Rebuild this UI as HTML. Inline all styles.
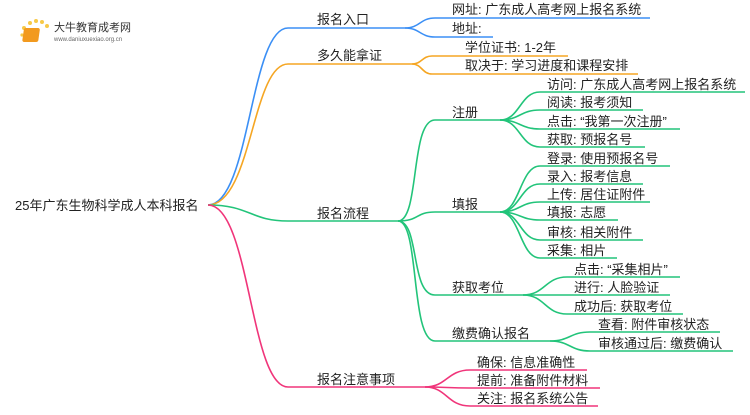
<!DOCTYPE html>
<html><head><meta charset="utf-8"><style>
body{margin:0;background:#fff;}
svg text{font-family:"Liberation Sans","Noto Sans CJK SC",sans-serif;font-size:13px;fill:#222;}
</style></head><body>
<svg width="750" height="410" viewBox="0 0 750 410" xmlns="http://www.w3.org/2000/svg">
<g fill="none" stroke-width="1.6">
<!-- blue -->
<g stroke="#3b8ff5">
<path d="M208,205 C250,205 250,28 288,28 L405,28"/>
<path d="M405,28 C420,28 420,18 435,18 L650,18"/>
<path d="M405,28 C420,28 420,37 435,37 L493,37"/>
</g>
<!-- orange -->
<g stroke="#f5a623">
<path d="M208,205 C252,205 252,64 288,64 L412,64"/>
<path d="M412,64 C422,64 422,56 432,56 L568,56"/>
<path d="M412,64 C422,64 422,74 432,74 L638,74"/>
</g>
<!-- green -->
<g stroke="#22c47a">
<path d="M208,205 C250,205 250,221 288,221 L398,221"/>
<path d="M398,221 C420,221 410,120 435,120 L500,120"/>
<path d="M398,221 C420,221 415,212 435,212 L500,212"/>
<path d="M398,221 C420,221 410,295 435,295 L523,295"/>
<path d="M398,221 C420,221 410,341 435,341 L550,341"/>
<path d="M500,120 C520,120 520,92 540,92 L745,92"/>
<path d="M500,120 C520,120 520,110 540,110 L643,110"/>
<path d="M500,120 C520,120 520,129 540,129 L680,129"/>
<path d="M500,120 C520,120 520,147 540,147 L645,147"/>
<path d="M500,212 C520,212 520,166 540,166 L670,166"/>
<path d="M500,212 C520,212 520,184 540,184 L643,184"/>
<path d="M500,212 C520,212 520,202 540,202 L650,202"/>
<path d="M500,212 C520,212 520,220 540,220 L618,220"/>
<path d="M500,212 C520,212 520,240 540,240 L643,240"/>
<path d="M500,212 C520,212 520,258 540,258 L617,258"/>
<path d="M523,295 C545,295 545,277 567,277 L680,277"/>
<path d="M523,295 C545,295 545,295 567,295 L670,295"/>
<path d="M523,295 C545,295 545,314 567,314 L683,314"/>
<path d="M550,341 C570,341 570,332 590,332 L720,332"/>
<path d="M550,341 C570,341 570,351 590,351 L733,351"/>
</g>
<!-- pink -->
<g stroke="#f0357a">
<path d="M208,205 C250,205 250,387 288,387 L425,387"/>
<path d="M425,387 C447,387 447,370 470,370 L587,370"/>
<path d="M425,387 C447,387 447,388 470,388 L600,388"/>
<path d="M425,387 C447,387 447,406 470,406 L598,406"/>
</g>
</g>
<!-- logo -->
<g>
<circle cx="30" cy="23" r="2" fill="#f7c948"/><circle cx="36" cy="21" r="2" fill="#f7c948"/><circle cx="42" cy="22" r="2" fill="#f7c948"/><circle cx="47" cy="26" r="2" fill="#f7c948"/><circle cx="24" cy="28" r="2" fill="#f7c948"/><circle cx="22" cy="35" r="1.6" fill="#f7c948"/>
<rect x="28" y="28" width="16" height="14" rx="2" fill="#f29a1f" transform="skewX(-8)"/>
<text x="54" y="31" style="font-size:11px;fill:#333">大牛教育成考网</text>
<text x="54" y="41" style="font-size:6px;fill:#666">www.daniuxuexiao.org.cn</text>
</g>
<text x="15" y="210">25年广东生物科学成人本科报名</text>
<text x="317" y="24">报名入口</text>
<text x="452" y="14">网址: 广东成人高考网上报名系统</text>
<text x="452" y="33">地址:</text>
<text x="317" y="60">多久能拿证</text>
<text x="465" y="52">学位证书: 1-2年</text>
<text x="465" y="70">取决于: 学习进度和课程安排</text>
<text x="317" y="218">报名流程</text>
<text x="452" y="117">注册</text>
<text x="547" y="89">访问: 广东成人高考网上报名系统</text>
<text x="547" y="107">阅读: 报考须知</text>
<text x="547" y="126">点击: “我第一次注册”</text>
<text x="547" y="144">获取: 预报名号</text>
<text x="452" y="209">填报</text>
<text x="547" y="163">登录: 使用预报名号</text>
<text x="547" y="181">录入: 报考信息</text>
<text x="547" y="199">上传: 居住证附件</text>
<text x="547" y="217">填报: 志愿</text>
<text x="547" y="237">审核: 相关附件</text>
<text x="547" y="255">采集: 相片</text>
<text x="452" y="292">获取考位</text>
<text x="574" y="274">点击: “采集相片”</text>
<text x="574" y="292">进行: 人脸验证</text>
<text x="574" y="311">成功后: 获取考位</text>
<text x="452" y="338">缴费确认报名</text>
<text x="598" y="329">查看: 附件审核状态</text>
<text x="598" y="348">审核通过后: 缴费确认</text>
<text x="317" y="384">报名注意事项</text>
<text x="477" y="367">确保: 信息准确性</text>
<text x="477" y="385">提前: 准备附件材料</text>
<text x="477" y="403">关注: 报名系统公告</text>
</svg>
</body></html>
